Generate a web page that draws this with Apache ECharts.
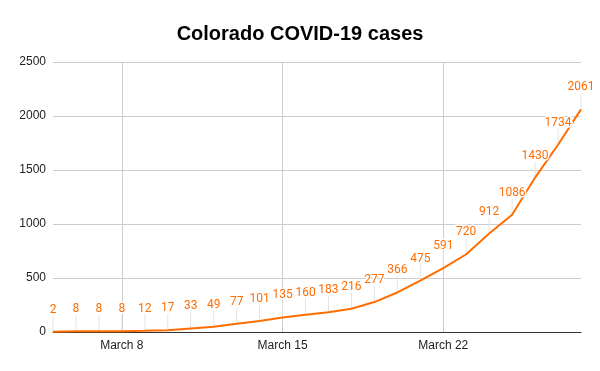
<!DOCTYPE html>
<html><head><meta charset="utf-8">
<script src="https://cdn.jsdelivr.net/npm/echarts@6/dist/echarts.min.js"></script>
<style>html,body{margin:0;padding:0;background:#fff}#c{width:600px;height:371px}</style>
</head><body><div id="c"></div>
<script>
const dates = ["March 5","March 6","March 7","March 8","March 9","March 10","March 11","March 12","March 13","March 14","March 15","March 16","March 17","March 18","March 19","March 20","March 21","March 22","March 23","March 24","March 25","March 26","March 27","March 28"];
const cases = [2,8,8,8,12,17,33,49,77,101,135,160,183,216,277,366,475,591,720,912,1086,1430,1734,2061];
const yTicks = [0,500,1000,1500,2000,2500];

const chart = echarts.init(document.getElementById('c'));
const every7 = (i) => i % 7 === 3;
const pts = cases.map((v, i) => [i, v]);
chart.setOption({
  animation: false,
  title: {text: 'Colorado COVID-19 cases', left: 'center', top: 19,
    textStyle: {fontFamily: 'Liberation Sans, Arial', fontWeight: 'bold', fontSize: 20, color: '#000'}},
  grid: {left: 53, right: 19, top: 62, bottom: 39},
  xAxis: {type: 'category', data: dates, boundaryGap: false,
    axisLine: {lineStyle: {color: '#333', width: 1}},
    axisTick: {show: false},
    axisLabel: {interval: (i) => every7(i), color: '#222', fontFamily: 'Liberation Sans, Arial', fontSize: 12, margin: 8},
    splitLine: {show: true, interval: (i) => every7(i), lineStyle: {color: '#ccc'}}},
  yAxis: {type: 'value', min: yTicks[0], max: yTicks[yTicks.length-1], interval: 500,
    axisLine: {show: false}, axisTick: {show: false},
    axisLabel: {color: '#222', fontFamily: 'Liberation Sans, Arial', fontSize: 12, margin: 7, formatter: (v) => String(v)},
    splitLine: {lineStyle: {color: '#ccc'}}},
  series: [
    {type: 'custom', z: 1, silent: true, data: pts,
      renderItem: (params, api) => {
        const p = api.coord([api.value(0), api.value(1)]);
        return {type: 'line', shape: {x1: p[0], y1: p[1], x2: p[0], y2: p[1] - 16},
            style: {stroke: '#e3e3e3', lineWidth: 1}};
      }},
    {type: 'line', data: cases, z: 3, showSymbol: false,
      lineStyle: {color: '#ff6d01', width: 2}},
    {type: 'custom', z: 5, silent: true, data: pts,
      renderItem: (params, api) => {
        const p = api.coord([api.value(0), api.value(1)]);
        return {type: 'text', x: p[0], y: p[1] - 16,
            style: {text: String(api.value(1)), fill: '#ff6d01', font: '12px Roboto',
              stroke: '#fff', lineWidth: 3,
              textAlign: 'center', textVerticalAlign: 'bottom'}};
      }}
  ]
});
</script></body></html>
